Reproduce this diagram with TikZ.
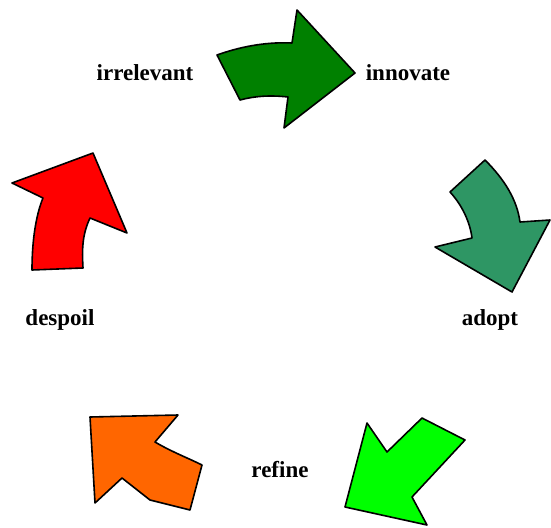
\documentclass[tikz,border=0pt]{standalone}
\usepackage{fontspec}
\setmainfont{Liberation Serif}
\definecolor{innovgreen}{RGB}{0,128,0}
\definecolor{adoptteal}{RGB}{46,150,100}
\definecolor{refinelime}{RGB}{0,255,0}
\definecolor{despoilorange}{RGB}{255,102,0}
\definecolor{irrelred}{RGB}{255,0,0}
\usetikzlibrary{positioning}

\begin{document}
\begin{tikzpicture}[x=1pt,y=-1pt,
    arrowshape/.style={draw=black, line width=1.6pt, line join=round},
    stage/.style={font=\bfseries\fontsize{23}{23}\selectfont, inner sep=0pt}]
    \useasboundingbox (0,0) rectangle (551,527);

    % Arrows
    \filldraw[arrowshape, fill=innovgreen] (217,55) .. controls (245,45) and (270,42) .. (292,43)
        -- (297,10) -- (355,73) -- (284,128) -- (288,97)
        .. controls (270,95) and (255,96) .. (240,100) -- cycle;
    \filldraw[arrowshape, fill=adoptteal] (450,192) -- (485,160)
        .. controls (505,180) and (517,200) .. (520,222) -- (550,220) -- (512,292)
        -- (435,247) -- (472,238) .. controls (470,222) and (462,205) .. (450,192) -- cycle;
    \filldraw[arrowshape, fill=refinelime] (367,423) -- (387,452) -- (422,418) -- (465,440)
        -- (412,497) -- (427,525) -- (345,507) -- cycle;
    \filldraw[arrowshape, fill=despoilorange] (90,417) -- (178,415) -- (155,442)
        .. controls (172,452) and (188,458) .. (202,465) -- (190,510) -- (150,500)
        -- (122,478) -- (95,503) -- cycle;
    \filldraw[arrowshape, fill=irrelred] (12,183) -- (93,153) -- (127,233) -- (90,218)
        .. controls (82,235) and (82,250) .. (83,268) -- (32,270)
        .. controls (32,240) and (36,215) .. (43,198) -- cycle;

    % Labels
    \node[stage] (irrelevant) at (145,73) {irrelevant};
    \node[stage] (innovate) at (408,73) {innovate};
    \node[stage] (adopt) at (490,320) {adopt};
    \node[stage] (despoil) at (60,320) {despoil};
    \node[stage] (refine) at (280,470) {refine};
\end{tikzpicture}
\end{document}
